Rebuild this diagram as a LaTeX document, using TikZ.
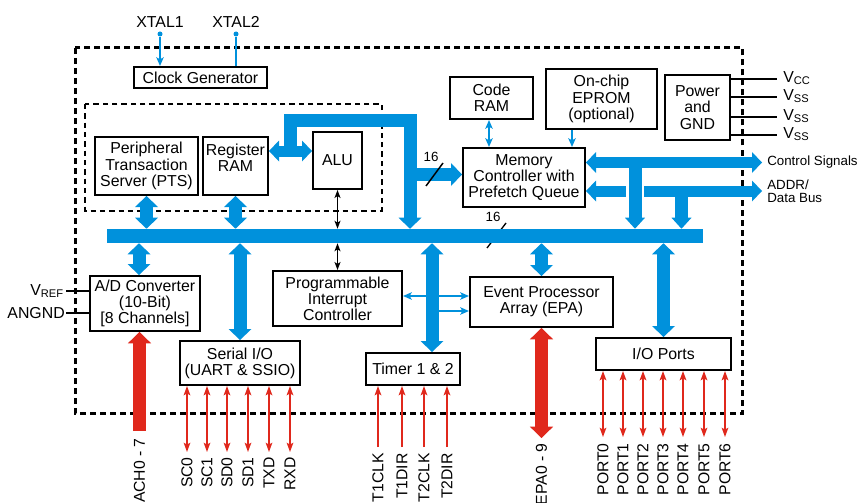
\documentclass[tikz,border=0pt]{standalone}
\usepackage{fontspec}
\setmainfont{Liberation Sans}
\usetikzlibrary{arrows.meta}
\definecolor{busblue}{RGB}{0,145,220}
\definecolor{sigred}{RGB}{224,40,28}
\newcommand\pxu{0.75pt}
\begin{document}
\begin{tikzpicture}[x=0.75pt,y=-0.75pt,
  every node/.style={inner sep=0pt, font=\fontsize{11.9}{12.1}\selectfont},
  blk/.style={draw=black, line width=1.5pt, fill=white, align=center},
  smalltxt/.style={font=\fontsize{10}{9.6}\selectfont},
  pin/.style={font=\fontsize{11.8}{12}\selectfont, rotate=90, anchor=east},
  fat/.style={draw=busblue, line width=9.75pt},
  fatthin/.style={draw=busblue, line width=8.25pt},
  redfat/.style={draw=sigred, line width=9.5pt},
  tline/.style={draw=busblue, line width=1.5pt},
  kline/.style={draw=black, line width=1.1pt},
  rline/.style={draw=sigred, line width=1.1pt},
  FB/.tip={Triangle[width=17.25pt,length=8.25pt,line width=0pt]},
  FS/.tip={Triangle[width=15.75pt,length=7.5pt,line width=0pt]},
  FD/.tip={Triangle[width=15pt,length=8.25pt,line width=0pt]},
  FR/.tip={Triangle[width=17.5pt,length=8.5pt,line width=0pt]},
  TB/.tip={Stealth[width=5.5pt,length=6.5pt,inset=1.5pt]},
  TK/.tip={Stealth[width=4.5pt,length=6pt,inset=1.5pt]},
  TR/.tip={Stealth[width=5pt,length=7pt,inset=1.5pt]},
]
\useasboundingbox (0,0) rectangle (860,503);

% chip boundary and CPU core boundary
\draw[line width=2.25pt, dash pattern=on 4.5pt off 3pt] (75,48) rectangle (742.5,413);
\draw[line width=1.5pt, dash pattern=on 4pt off 3pt] (85,104) rectangle (382,210.5);

% width mark on the internal bus (behind the bus)
\draw[black, line width=1pt] (487,248) -- (506,223);
\node[smalltxt] (bus16) at (493,217) {16};

% internal bus
\node[fill=busblue, minimum width=596*\pxu, minimum height=14*\pxu] (bus) at (405,236) {};

% functional blocks
\node[blk, minimum width=133*\pxu, minimum height=21*\pxu] (clk) at (200.5,77.5) {Clock Generator};
\node[blk, minimum width=103*\pxu, minimum height=58*\pxu] (pts) at (146.5,166) {Peripheral\\Transaction\\Server (PTS)};
\node[blk, minimum width=65*\pxu, minimum height=58*\pxu] (reg) at (235.5,166) {};
\node[align=center] (regtxt) at (235.5,157.5) {Register\\RAM};
\node[blk, minimum width=49*\pxu, minimum height=57*\pxu] (alu) at (337.5,160.5) {ALU};
\node[blk, minimum width=83*\pxu, minimum height=42*\pxu] (code) at (491.5,98) {Code\\RAM};
\node[blk, minimum width=111*\pxu, minimum height=60*\pxu] (eprom) at (601.5,99) {On-chip\\EPROM\\(optional)};
\node[blk, minimum width=65*\pxu, minimum height=65*\pxu] (pwr) at (697.5,107.5) {Power\\and\\GND};
\node[blk, minimum width=122*\pxu, minimum height=59*\pxu] (mem) at (524,177.5) {Memory\\Controller with\\Prefetch Queue};
\node[blk, minimum width=110*\pxu, minimum height=55*\pxu] (ad) at (145,303.5) {A/D Converter\\(10-Bit)\\{[8 Channels]}};
\node[blk, minimum width=129*\pxu, minimum height=55*\pxu] (pic) at (337.5,298.5) {Programmable\\Interrupt\\Controller};
\node[blk, minimum width=120*\pxu, minimum height=44*\pxu] (sio) at (240,363) {Serial I/O\\(UART \& SSIO)};
\node[blk, minimum width=94*\pxu, minimum height=32*\pxu] (tmr) at (413,369) {Timer 1 \& 2};
\node[blk, minimum width=143*\pxu, minimum height=50*\pxu] (epa) at (541.5,302) {Event Processor\\Array (EPA)};
\node[blk, minimum width=135*\pxu, minimum height=32*\pxu] (io) at (663.5,354) {I/O Ports};

% crystal inputs
\node[circle, fill=busblue, minimum size=5*\pxu] (x1) at (160,34) {};
\node[circle, fill=busblue, minimum size=5*\pxu] (x2) at (236,34) {};
\node (xtal1) at (160,22) {XTAL1};
\node (xtal2) at (236,22) {XTAL2};
\draw[tline, -{TB}] (x1) -- (x1 |- clk.north);
\draw[tline] (x2) -- (x2 |- clk.north);

% register file <-> ALU and the result path
\draw[fatthin, {FS}-{FS}] (reg.east |- 0,151) -- (alu.west |- 0,151);
\draw[fat, -{FB}, line join=miter] (290.5,151) -- (290.5,120.5) -- (410,120.5) -- (410,0 |- bus.north);
\draw[fat, -{FB}] (410,174.5) -- (mem.west |- 0,174.5);
\draw[black, line width=1.1pt] (426,186) -- (443,163);
\node[smalltxt] (mem16) at (431,157) {16};

% memory side
\draw[tline, {TB}-{TB}] (489,0 |- code.south) -- (489,0 |- mem.north);
\draw[tline, -{TB}] (572,0 |- eprom.south) -- (572,0 |- mem.north);
\coordinate (ctlend) at (762,162.5);
\coordinate (adrend) at (762,191);
\draw[fatthin, {FS}-{FS}] (mem.east |- ctlend) -- (ctlend);
\draw[fatthin, {FS}-{FS}] (mem.east |- adrend) -- (adrend);
\draw[white, line width=13.5pt] (635,183.5) -- (635,198.5);
\draw[fat, -{FD}] (635,162.5) -- (635,0 |- bus.north);
\draw[fat, -{FD}] (681.5,191) -- (681.5,0 |- bus.north);
\node[smalltxt, anchor=west] (ctltxt) at (767,162) {Control Signals};
\node[smalltxt, anchor=west, align=left] (adrtxt) at (767,191) {ADDR/\\Data Bus};

% supply pins
\foreach \y/\n/\s [count=\i] in {79/CC/cc, 97/SS/s1, 117/SS/s2, 135/SS/s3}{
  \coordinate (pw\i) at (777,\y);
  \draw[black, line width=1.1pt] (pwr.east |- pw\i) -- (pw\i);
  \node[anchor=base west] (lbl\s) at (783,\y+3.5) {V\textsubscript{\n}};
}

% bus taps
\draw[fat, {FB}-{FB}] (pts.south) -- (pts.south |- bus.north);
\draw[fat, {FB}-{FB}] (reg.south) -- (reg.south |- bus.north);
\draw[kline, {TK}-{TK}] (alu.south) -- (alu.south |- bus.north);
\draw[fat, {FB}-{FB}] (139,0 |- bus.south) -- (139,0 |- ad.north);
\draw[fat, {FB}-{FB}] (bus.south -| sio.north) -- (sio.north);
\draw[kline, {TK}-{TK}] (bus.south -| pic.north) -- (pic.north);
\draw[tline, {TB}-{TB}] (pic.east |- 0,296) -- (epa.west |- 0,296);
\draw[tline, -{TB}] (432,311) -- (epa.west |- 0,311);
\draw[fat, {FB}-{FB}] (432,0 |- bus.south) -- (432,0 |- tmr.north);
\draw[fat, {FB}-{FB}] (bus.south -| epa.north) -- (epa.north);
\draw[fat, {FB}-{FB}] (bus.south -| io.north) -- (io.north);

% analog reference pins
\coordinate (vref) at (66,291);
\coordinate (angnd) at (66,313);
\draw[black, line width=1.1pt] (vref) -- (ad.west |- vref);
\draw[black, line width=1.1pt] (angnd) -- (ad.west |- angnd);
\node[anchor=base east] (vreftxt) at (64,295.5) {V\textsubscript{REF}};
\node[anchor=east] (angndtxt) at (65,313) {ANGND};

% analog inputs and EPA pins
\coordinate (achend) at (139.5,431);
\draw[redfat, -{FR}] (achend) -- (achend |- ad.south);
\node[pin] (achtxt) at (139.5,438) {ACH0 - 7};
\coordinate (epaend) at (541.5,438);
\draw[redfat, {FR}-{FR}] (epa.south) -- (epaend);
\node[pin] (epatxt) at (541.5,443) {EPA0 - 9};

% serial pins
\foreach \x/\t [count=\i] in {187/SC0,207/SC1,227/SD0,248/SD1,269/TXD,290/RXD}{
  \coordinate (sp\i) at (\x,452);
  \draw[rline, {TR}-{TR}] (sio.south -| sp\i) -- (sp\i);
  \node[pin] (spt\i) at (\x,457) {\t};
}
% timer pins
\foreach \x/\t [count=\i] in {378/T1CLK,402/T1DIR,424/T2CLK,447/T2DIR}{
  \coordinate (tp\i) at (\x,447);
  \draw[rline, -{TR}] (tp\i) -- (tmr.south -| tp\i);
  \node[pin] (tpt\i) at (\x,453) {\t};
}
% port pins
\foreach \x [count=\i from 0] in {603,623,643,663,683,704,725}{
  \coordinate (pp\i) at (\x,437);
  \draw[rline, {TR}-{TR}] (io.south -| pp\i) -- (pp\i);
  \node[pin] (ppt\i) at (\x,443) {PORT\i};
}
\end{tikzpicture}
\end{document}
